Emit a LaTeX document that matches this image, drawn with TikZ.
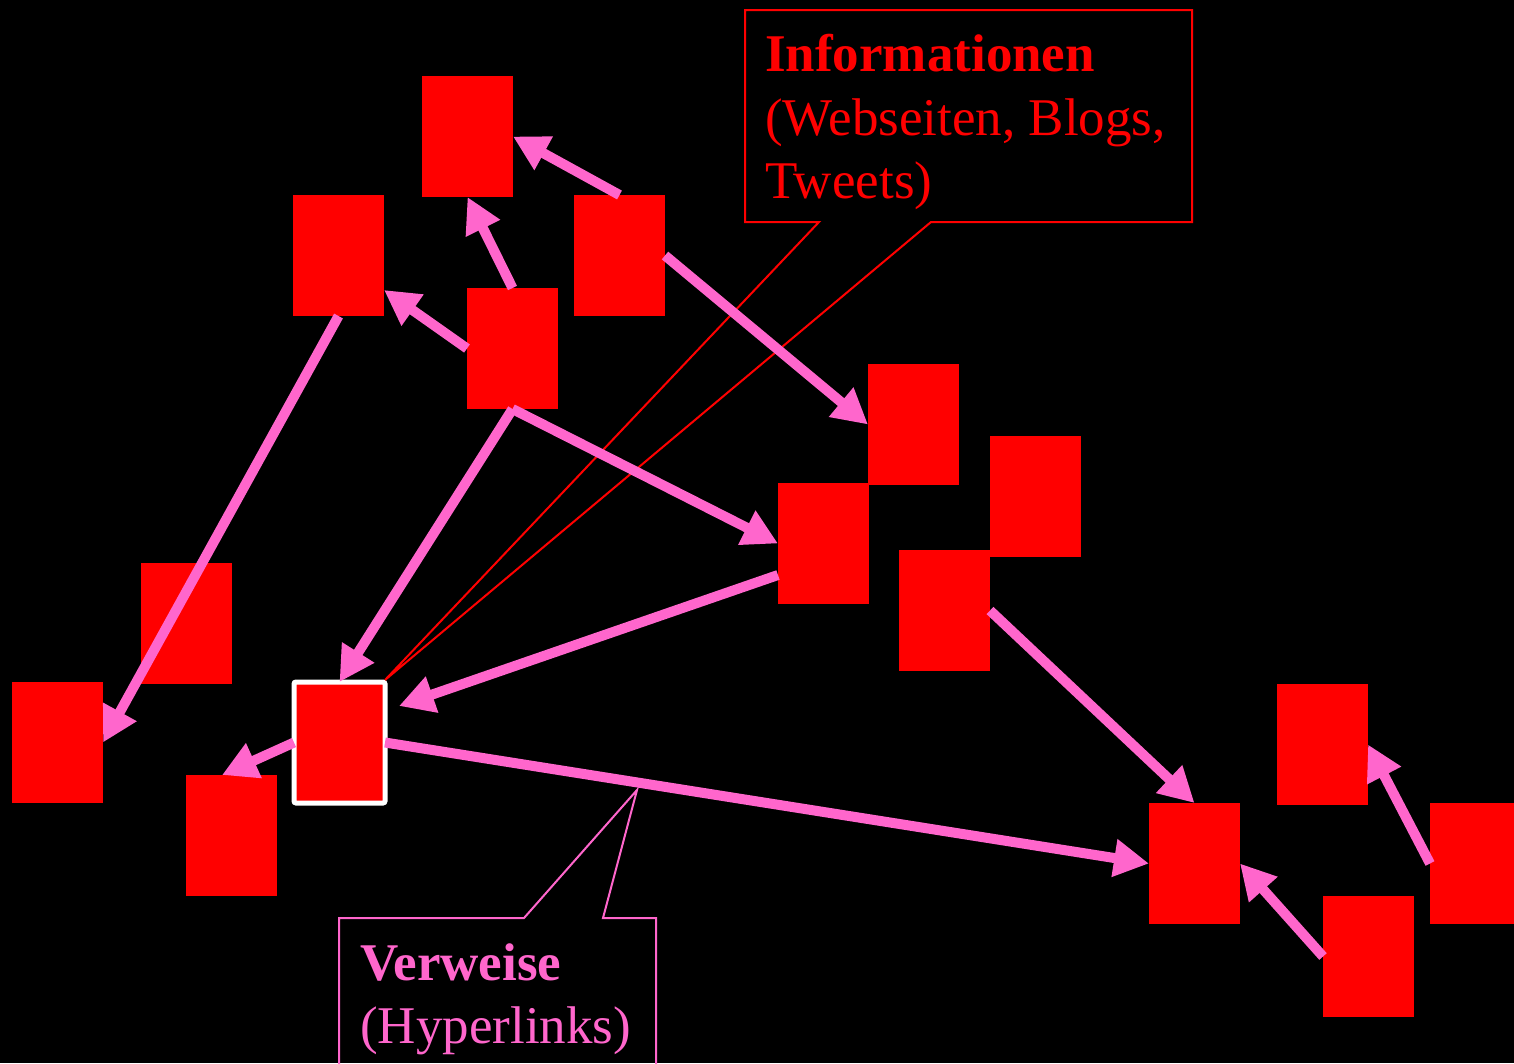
\documentclass[tikz,border=0pt]{standalone}
\usepackage{fontspec}
\setmainfont{Liberation Serif}
\usetikzlibrary{arrows.meta,calc}
\definecolor{hotpink}{HTML}{FF66CC}
\definecolor{pred}{HTML}{FF0000}
\tikzset{
  page/.style={x=1pt,y=-1pt},
  page box/.style={fill=pred,draw=none,minimum width=91pt,minimum height=121pt,inner sep=0pt,outer sep=0pt},
  link/.style={draw=hotpink,line width=10pt,-{Triangle[length=35pt,width=36pt]}},
  callout red/.style={draw=pred,line width=2pt,line join=miter},
  callout pink/.style={draw=hotpink,line width=2pt,line join=miter},
  lbl/.style={anchor=base west,inner sep=0pt,font=\fontsize{53pt}{64pt}\selectfont}
}
\begin{document}
\begin{tikzpicture}[page]
\fill[black] (0,0) rectangle (1514,1063);
\useasboundingbox (0,0) rectangle (1514,1063);

% pages
\node[page box] (r1)  at (467.5,136.5) {};
\node[page box] (r2)  at (338.5,255.5) {};
\node[page box] (r3)  at (619.5,255.5) {};
\node[page box] (r4)  at (512.5,348.5) {};
\node[page box] (r5)  at (913.5,424.5) {};
\node[page box] (r6)  at (1035.5,496.5) {};
\node[page box] (r7)  at (823.5,543.5) {};
\node[page box] (r8)  at (944.5,610.5) {};
\node[page box] (r9)  at (186.5,623.5) {};
\node[page box] (r10) at (57.5,742.5) {};
\node[page box,draw=white,line width=5pt,rounded corners=2pt] (r11) at (339.5,742.5) {};
\node[page box] (r12) at (231.5,835.5) {};
\node[page box] (r13) at (1194.5,863.5) {};
\node[page box] (r14) at (1322.5,744.5) {};
\node[page box] (r15) at (1475.5,863.5) {};
\node[page box] (r16) at (1368.5,956.5) {};

% callouts
\coordinate (tipinfo) at ($(r11.north east)+(0,-2)$);
\draw[callout red] (819,222) -- (tipinfo) -- (931,222) -- (1192,222) -- (1192,10) -- (745,10) -- (745,222) -- cycle;
\coordinate (tiplink) at (637,790);
\draw[callout pink] (339,1075) -- (339,918) -- (524,918) -- (tiplink) -- (603,918) -- (656,918) -- (656,1075);

% links
\draw[link] (r3.north) -- (r1.east);
\draw[link] (r4.north) -- (r1.south);
\draw[link] (r4.west) -- ($(r2.east)+(0,34.5)$);
\draw[link] (r3.east) -- (r5.west);
\draw[link] (r2.south) -- (r10.east);
\draw[link] (r4.south) -- (r11.north);
\draw[link] (r4.south) -- (r7.west);
\draw[link] ($(r7.west)+(0,31.5)$) -- ($(r11.north east)+(14,24)$);
\draw[link] (r11.east) -- (r13.west);
\draw[link] (r11.west) -- ($(r12.north)+(-9.5,0)$);
\draw[link] (r8.east) -- (r13.north);
\draw[link] (r16.west) -- (r13.east);
\draw[link] (r15.west) -- (r14.east);

% labels
\node[lbl,text=pred] (info1) at (765,71) {\bfseries Informationen};
\node[lbl,text=pred] (info2) at (765,135) {(Webseiten, Blogs,};
\node[lbl,text=pred] (info3) at (765,198) {Tweets)};
\node[lbl,text=hotpink] (verw1) at (360,980) {\bfseries Verweise};
\node[lbl,text=hotpink] (verw2) at (360,1043) {(Hyperlinks)};
\end{tikzpicture}
\end{document}
